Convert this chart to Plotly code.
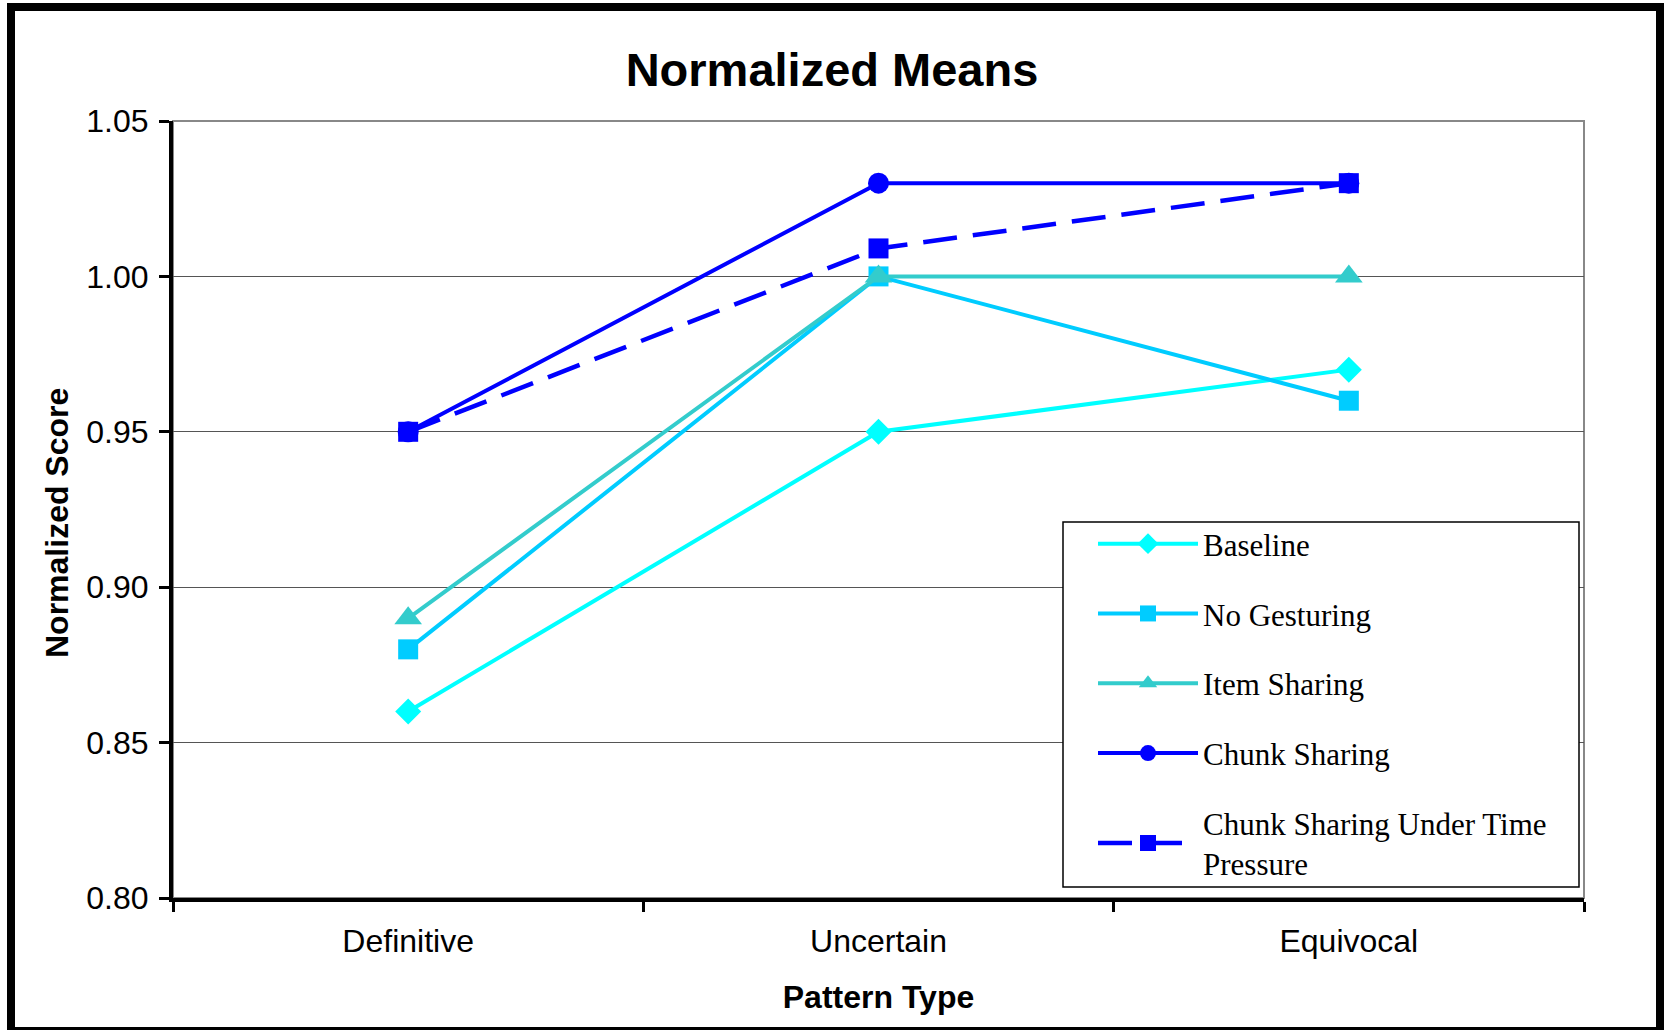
import plotly.graph_objects as go

categories = ["Definitive", "Uncertain", "Equivocal"]
baseline = [0.86, 0.95, 0.97]
no_gesturing = [0.88, 1.00, 0.96]
item_sharing = [0.89, 1.00, 1.00]
chunk_sharing = [0.95, 1.03, 1.03]
chunk_time_pressure = [0.95, 1.009, 1.03]
y_ticks = [0.80, 0.85, 0.90, 0.95, 1.00, 1.05]

W, H = 1664, 1030
L, R, T, B = 173, 80, 121, 132

series = [
    ("Baseline", baseline, "#00FFFF", "diamond", 20, "solid", 4),
    ("No Gesturing", no_gesturing, "#00CCFF", "square", 20, "solid", 4),
    ("Item Sharing", item_sharing, "#33CCCC", "triangle-up", 24, "solid", 4),
    ("Chunk Sharing", chunk_sharing, "#0000FF", "circle", 21, "solid", 4),
    ("Chunk Sharing Under Time<br>Pressure", chunk_time_pressure, "#0000FF", "square", 20, "34px,16px", 4.5),
]

fig = go.Figure()
for i, (name, vals, color, sym, size, dash, lw) in enumerate(series):
    fig.add_trace(go.Scatter(
        x=categories, y=vals, name=name, mode="lines+markers",
        line=dict(color=color, width=lw, dash=dash),
        marker=dict(symbol=sym, size=size, color=color),
        legendgroup=f"g{i}",
    ))

pw = W - L - R
ph = H - T - B

def px_x(x):
    return (x - L) / pw

def px_y(y):
    return (H - B - y) / ph

fig.update_layout(
    width=W, height=H,
    margin=dict(l=L, r=R, t=T, b=B, autoexpand=False),
    paper_bgcolor="white", plot_bgcolor="white",
    title=dict(text="<b>Normalized Means</b>", x=0.5, xanchor="center",
               y=1 - 70 / H, yanchor="middle",
               font=dict(family="Liberation Sans, Arial", size=47, color="black")),
    font=dict(family="Liberation Sans, Arial", color="black"),
    showlegend=True,
    legend=dict(
        x=px_x(1093), xanchor="left",
        y=px_y(517), yanchor="top",
        bgcolor="rgba(0,0,0,0)", borderwidth=0,
        font=dict(family="Liberation Serif, Times New Roman", size=31, color="black"),
        itemwidth=100, tracegroupgap=26.5,
    ),
    xaxis=dict(
        type="category", categoryorder="array", categoryarray=categories,
        range=[-0.5, 2.5], tickson="boundaries", automargin=False,
        ticks="outside", ticklen=10, tickwidth=3, tickcolor="black",
        showline=True, linecolor="black", linewidth=4,
        showgrid=False, zeroline=False,
        tickfont=dict(family="Liberation Sans, Arial", size=32, color="black"),
        ticklabelstandoff=12,
        title=dict(text="<b>Pattern Type</b>", standoff=28,
                   font=dict(family="Liberation Sans, Arial", size=32, color="black")),
    ),
    yaxis=dict(
        range=[0.80, 1.05], tickvals=y_ticks, tickformat=".2f", automargin=False,
        ticks="outside", ticklen=10, tickwidth=3, tickcolor="black",
        showline=True, linecolor="black", linewidth=4,
        showgrid=True, gridcolor="#555555", gridwidth=1, zeroline=False,
        tickfont=dict(family="Liberation Sans, Arial", size=32, color="black"),
        ticklabelstandoff=4,
    ),
    annotations=[
        dict(text="<b>Normalized Score</b>", xref="paper", yref="paper",
             x=px_x(57), y=px_y(523), xanchor="center", yanchor="middle",
             textangle=-90, showarrow=False,
             font=dict(family="Liberation Sans, Arial", size=32, color="black")),
    ],
    shapes=[
        dict(type="rect", xref="paper", yref="paper", x0=0, x1=1, y0=0, y1=1,
             line=dict(color="#888888", width=2), layer="below"),
        dict(type="rect", xref="paper", yref="paper",
             x0=px_x(1063), x1=px_x(1579), y0=px_y(887), y1=px_y(522),
             fillcolor="white", line=dict(color="black", width=1.5), layer="above"),
        dict(type="rect", xref="paper", yref="paper",
             x0=px_x(11), x1=px_x(1660), y0=px_y(1031), y1=px_y(7),
             line=dict(color="black", width=8), layer="above"),
    ],
)

fig.write_html("out.html", config={"displayModeBar": False},
               post_script="document.body.style.margin='0px';")
